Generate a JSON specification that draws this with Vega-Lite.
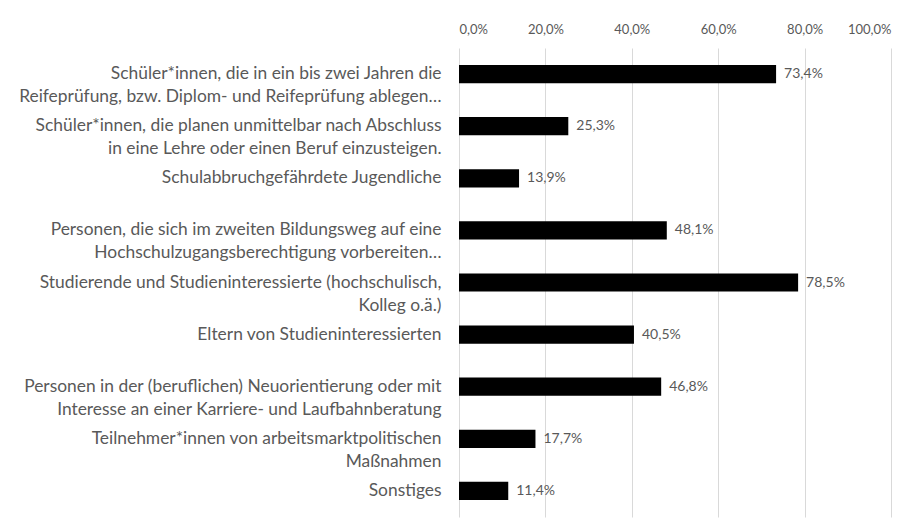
{
  "$schema": "https://vega.github.io/schema/vega-lite/v6.json",
  "width": 432,
  "height": 469,
  "autosize": {"type": "none"},
  "padding": {"left": 459, "top": 48, "right": 28, "bottom": 9},
  "background": "white",
  "config": {
    "view": {"stroke": null},
    "font": "Lato",
    "locale": {"number": {"decimal": ",", "thousands": ".", "grouping": [3], "currency": ["", " €"]}}
  },
  "data": {
    "values": [
      {"gruppe": "Schüler*innen, die in ein bis zwei Jahren die\nReifeprüfung, bzw. Diplom- und Reifeprüfung ablegen…", "anteil": 0.734},
      {"gruppe": "Schüler*innen, die planen unmittelbar nach Abschluss\nin eine Lehre oder einen Beruf einzusteigen.", "anteil": 0.253},
      {"gruppe": "Schulabbruchgefährdete Jugendliche", "anteil": 0.139},
      {"gruppe": "Personen, die sich im zweiten Bildungsweg auf eine\nHochschulzugangsberechtigung vorbereiten…", "anteil": 0.481},
      {"gruppe": "Studierende und Studieninteressierte (hochschulisch,\nKolleg o.ä.)", "anteil": 0.785},
      {"gruppe": "Eltern von Studieninteressierten", "anteil": 0.405},
      {"gruppe": "Personen in der (beruflichen) Neuorientierung oder mit\nInteresse an einer Karriere- und Laufbahnberatung", "anteil": 0.468},
      {"gruppe": "Teilnehmer*innen von arbeitsmarktpolitischen\nMaßnahmen", "anteil": 0.177},
      {"gruppe": "Sonstiges", "anteil": 0.114}
    ]
  },
  "encoding": {
    "y": {
      "field": "gruppe",
      "type": "nominal",
      "sort": null,
      "scale": {"paddingInner": 0.65, "paddingOuter": 0.325},
      "axis": {
        "title": null,
        "domain": false,
        "ticks": false,
        "labelExpr": "split(datum.label, '\\n')",
        "labelLimit": 0,
        "labelFontSize": 17.4,
        "labelColor": "#595959",
        "labelPadding": 18,
        "labelLineHeight": 23
      }
    },
    "x": {
      "field": "anteil",
      "type": "quantitative",
      "scale": {"domain": [0, 1], "nice": false},
      "axis": {
        "orient": "top",
        "title": null,
        "format": ".1%",
        "values": [0, 0.2, 0.4, 0.6, 0.8, 1],
        "domain": false,
        "ticks": false,
        "grid": true,
        "gridColor": "#d9d9d9",
        "gridWidth": 1,
        "labelFontSize": 13,
        "labelColor": "#595959",
        "labelPadding": 12
      }
    }
  },
  "layer": [
    {"mark": {"type": "bar", "color": "#000000"}},
    {
      "mark": {"type": "text", "align": "left", "baseline": "middle", "dx": 8, "fontSize": 14, "color": "#595959"},
      "encoding": {"text": {"field": "anteil", "type": "quantitative", "format": ".1%"}}
    }
  ]
}
